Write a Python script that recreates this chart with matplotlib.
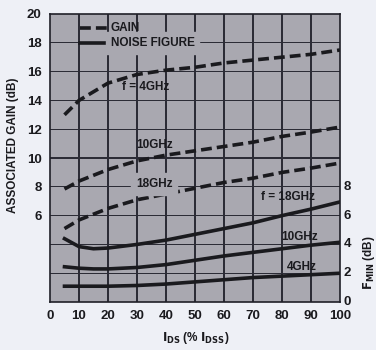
import matplotlib
matplotlib.use("Agg")
import matplotlib.pyplot as plt
import numpy as np

# Данные (ось X: % IDSS)
x_gain_4 = [5, 10, 20, 30, 40, 50, 60, 70, 80, 90, 100]
gain_4 = [13.0, 14.0, 15.2, 15.8, 16.1, 16.3, 16.6, 16.8, 17.0, 17.2, 17.5]
x_gain_10 = [5, 10, 20, 30, 40, 50, 60, 70, 80, 90, 100]
gain_10 = [7.85, 8.4, 9.2, 9.8, 10.2, 10.5, 10.8, 11.1, 11.5, 11.8, 12.15]
x_gain_18 = [5, 10, 20, 30, 40, 50, 60, 70, 80, 90, 100]
gain_18 = [5.1, 5.7, 6.5, 7.1, 7.5, 7.9, 8.3, 8.6, 9.0, 9.3, 9.65]

x_nf = [5, 10, 15, 20, 30, 40, 50, 60, 70, 80, 90, 100]
nf_18 = [4.4, 3.85, 3.7, 3.75, 4.0, 4.3, 4.7, 5.1, 5.5, 6.0, 6.45, 6.95]
nf_10 = [2.45, 2.35, 2.3, 2.3, 2.4, 2.6, 2.9, 3.2, 3.45, 3.7, 3.95, 4.15]
nf_4 = [1.1, 1.1, 1.1, 1.1, 1.15, 1.25, 1.4, 1.55, 1.7, 1.8, 1.9, 2.0]

x_ticks = [0, 10, 20, 30, 40, 50, 60, 70, 80, 90, 100]
gain_ticks = [6, 8, 10, 12, 14, 16, 18, 20]
grid_x = [10, 20, 30, 40, 50, 60, 70, 80, 90]
grid_y = [2, 4, 6, 8, 10, 12, 14, 16, 18]
fmin_ticks = [0, 2, 4, 6, 8]

# Настройки
bg_fig = "#eef0f6"
bg_ax = "#a9a8b0"
ink = "#1a1a1e"
grid_c = "#2c2c36"
font = "Liberation Sans"

fig = plt.figure(figsize=(3.76, 3.5), dpi=100, facecolor=bg_fig)
ax = fig.add_axes([0.133, 0.137, 0.771, 0.823])
ax.set_facecolor(bg_ax)
ax.set_xlim(0, 100)
ax.set_ylim(0, 20)

# Сетка - тонкими полосами (патчи, а не линии)
for xv in grid_x:
    ax.axvspan(xv - 0.22, xv + 0.22, color=grid_c, lw=0, zorder=1)
for yv in grid_y:
    ax.axhspan(yv - 0.045, yv + 0.045, color=grid_c, lw=0, zorder=1)

dash = (0, (3.0, 1.4))
ax.plot(x_gain_4, gain_4, color=ink, lw=2.6, linestyle=dash, zorder=3)
ax.plot(x_gain_10, gain_10, color=ink, lw=2.6, linestyle=dash, zorder=3)
ax.plot(x_gain_18, gain_18, color=ink, lw=2.6, linestyle=dash, zorder=3)
ax.plot(x_nf, nf_18, color=ink, lw=2.6, zorder=3)
ax.plot(x_nf, nf_10, color=ink, lw=2.6, zorder=3)
ax.plot(x_nf, nf_4, color=ink, lw=2.6, zorder=3)

# Легенда вручную
ax.plot([10.5, 20], [19.0, 19.0], color=ink, lw=2.6, linestyle=dash, zorder=3)
ax.plot([10.5, 20], [18.0, 18.0], color=ink, lw=2.6, zorder=3)
tk = dict(fontfamily=font, fontweight="bold", color=ink, fontsize=8.5, zorder=4)
ax.text(21, 19.0, "GAIN", va="center", ha="left", **tk)
ax.text(21, 18.0, "NOISE FIGURE", va="center", ha="left", backgroundcolor=bg_ax, **tk)

# Подписи кривых
ax.text(33, 14.9, "f = 4GHz", ha="center", va="center", **tk)
ax.text(36, 10.9, "10GHz", ha="center", va="center", **tk)
ax.text(36, 8.2, "18GHz", ha="center", va="center", backgroundcolor=bg_ax, **tk)
ax.text(82, 7.3, "f = 18GHz", ha="center", va="center", **tk)
ax.text(86, 4.5, "10GHz", ha="center", va="center", **tk)
ax.text(87, 2.4, "4GHz", ha="center", va="center", **tk)

ax.set_xticks(x_ticks)
ax.set_yticks(gain_ticks)
ax.tick_params(which="both", length=0, pad=6, labelsize=9.5)
for lab in ax.get_xticklabels() + ax.get_yticklabels():
    lab.set_fontfamily(font)
    lab.set_fontweight("bold")
    lab.set_color(ink)
for s in ax.spines.values():
    s.set_color("#202028")
    s.set_linewidth(1.2)

# Правая шкала F_MIN (та же шкала дБ)
right_tr = ax.get_yaxis_transform()
for v in fmin_ticks:
    ax.text(1.012, v, str(v), transform=right_tr, ha="left", va="center",
            fontfamily=font, fontweight="bold", fontsize=9.5, color=ink, clip_on=False)

fig.text(0.035, 0.585, "ASSOCIATED GAIN (dB)", rotation=90, ha="center", va="center",
         fontfamily=font, fontweight="bold", fontsize=8.5, color=ink)
fig.text(0.982, 0.25, r"$\mathbf{F_{MIN}}$ (dB)", rotation=90, ha="center", va="center",
         fontfamily=font, fontweight="bold", fontsize=8.5, color=ink)
fig.text(0.52, 0.034, r"$\mathbf{I_{DS}}$ (% $\mathbf{I_{DSS}}$)", ha="center", va="center",
         fontfamily=font, fontweight="bold", fontsize=8.5, color=ink)

fig.savefig("out.png", dpi=100, facecolor=bg_fig)
